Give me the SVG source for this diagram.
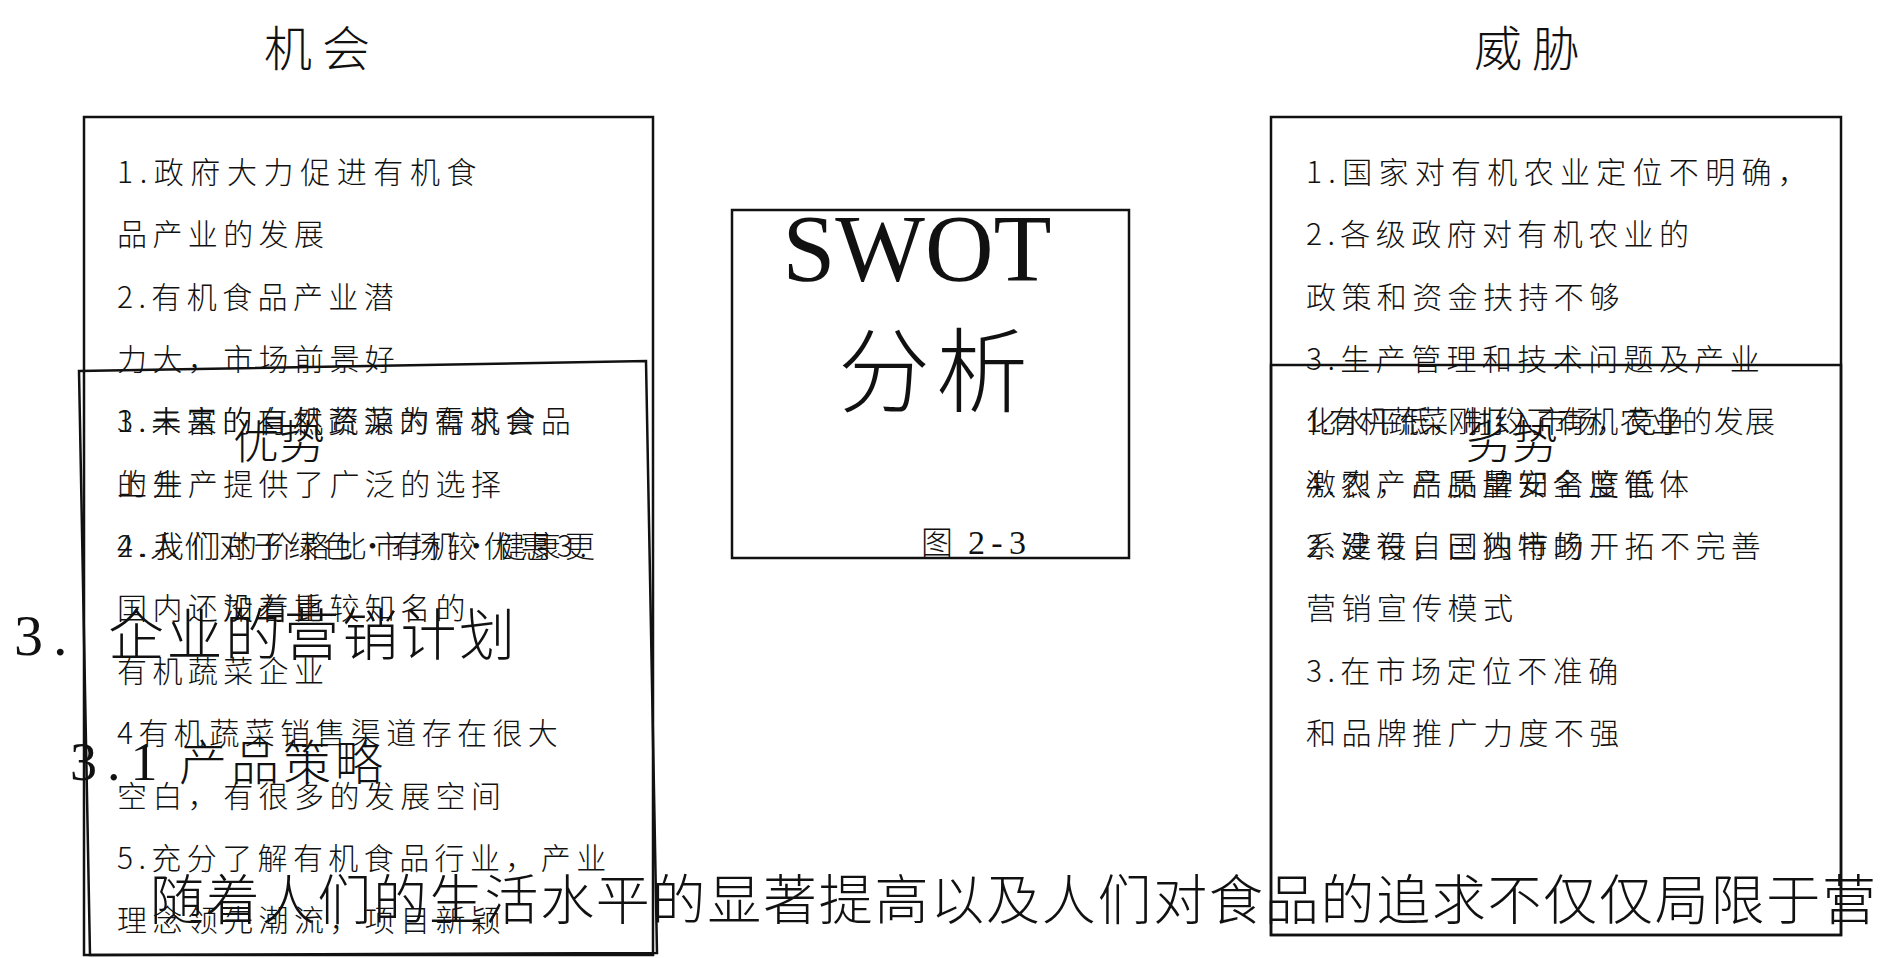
<svg xmlns="http://www.w3.org/2000/svg" width="1882" height="958" viewBox="0 0 1882 958">
<style>
.t{font-family:"Noto Sans CJK SC","Noto Sans CJK JP",sans-serif;font-size:30px;letter-spacing:5.4px;fill:#111;font-weight:300}
.n{font-family:"Noto Sans CJK SC","Noto Sans CJK JP",sans-serif;font-size:30px;fill:#111;font-weight:300}
.big{font-family:"Noto Sans CJK SC","Noto Sans CJK JP",sans-serif;fill:#111;font-weight:300}
.ser{font-family:"Liberation Serif","Times New Roman",serif;fill:#111}
.box{fill:none;stroke:#111;stroke-width:2.5}
</style>
<rect width="1882" height="958" fill="#fff"/>

<g id="titles">
  <text class="big" x="322" y="66" font-size="48" text-anchor="middle" letter-spacing="10">机会</text>
  <text class="big" x="1532" y="66" font-size="48" text-anchor="middle" letter-spacing="10">威胁</text>
</g>

<g id="opportunity">
  <rect class="box" x="84" y="117" width="569" height="838"/>
  <text class="t" x="117" y="183" style="letter-spacing:6.6px">1.政府大力促进有机食</text>
  <text class="t" x="117" y="245">品产业的发展</text>
  <text class="t" x="117" y="308">2.有机食品产业潜</text>
  <text class="t" x="117" y="370">力大，市场前景好</text>
  <text class="t" x="117" y="432">3.丰富的自然资源为有机食品</text>
  <text class="t" x="117" y="495">的生产提供了广泛的选择</text>
  <text class="n" x="117" y="557" textLength="478" lengthAdjust="spacing">4.人们对于绿色•有机•健康更</text>
  <text class="t" x="223" y="619">加着重</text>
</g>

<g id="strength">
  <polygon class="box" points="79,371 646,361 657,953 90,955"/>
  <text class="big" x="279" y="458" font-size="46" text-anchor="middle">优势</text>
  <text class="t" x="117" y="432">1.未来的有机蔬菜的需求会</text>
  <text class="t" x="117" y="495">上升</text>
  <text class="n" x="117" y="557" textLength="470" lengthAdjust="spacing">2.我们的价格比市场较优惠3.</text>
  <text class="t" x="117" y="619">国内还没有比较知名的</text>
  <text class="t" x="117" y="682">有机蔬菜企业</text>
  <text class="t" x="117" y="744">4有机蔬菜销售渠道存在很大</text>
  <text class="t" x="117" y="807">空白，有很多的发展空间</text>
  <text class="t" x="117" y="869">5.充分了解有机食品行业，产业</text>
  <text class="t" x="117" y="931">理念领先潮流，项目新颖</text>
</g>

<g id="threat">
  <rect class="box" x="1271" y="117" width="570" height="818"/>
  <text class="t" x="1306" y="183" style="letter-spacing:6.3px">1.国家对有机农业定位不明确，</text>
  <text class="t" x="1306" y="245">2.各级政府对有机农业的</text>
  <text class="t" x="1306" y="308">政策和资金扶持不够</text>
  <text class="t" x="1306" y="370">3.生产管理和技术问题及产业</text>
  <text class="n" x="1306" y="432" textLength="469" lengthAdjust="spacing">化水平低，制约了有机农业的发展</text>
  <text class="t" x="1306" y="495">4.农产品质量安全监管体</text>
  <text class="t" x="1306" y="557">系建设，国内市场开拓不完善</text>
</g>

<g id="weakness">
  <rect class="box" x="1271" y="365" width="570" height="570"/>
  <text class="big" x="1512" y="458" font-size="46" text-anchor="middle">劣势</text>
  <text class="n" x="1306" y="432" textLength="380" lengthAdjust="spacing">1.有机蔬菜刚打入市场，竞争</text>
  <text class="t" x="1306" y="495">激烈，产品牌知名度低</text>
  <text class="t" x="1306" y="557">2.没有自己独特的</text>
  <text class="t" x="1306" y="619">营销宣传模式</text>
  <text class="t" x="1306" y="682">3.在市场定位不准确</text>
  <text class="t" x="1306" y="744">和品牌推广力度不强</text>
</g>

<g id="swot">
  <rect class="box" x="732" y="210" width="397" height="348"/>
  <text class="ser" x="917" y="281" font-size="95" text-anchor="middle">SWOT</text>
  <text class="big" x="838" y="405" font-size="92" letter-spacing="6">分析</text>
  <text class="big" x="921" y="554" font-size="32">图</text>
  <text class="ser" x="968" y="554" font-size="34" textLength="58" lengthAdjust="spacing">2-3</text>
</g>

<g id="headings">
  <text class="ser" x="14" y="655" font-size="58" letter-spacing="10">3.</text>
  <text class="big" x="108" y="655" font-size="56" letter-spacing="2.5">企业的营销计划</text>
  <text class="ser" x="70" y="780" font-size="54" letter-spacing="10">3.1</text>
  <text class="big" x="179" y="780" font-size="48" letter-spacing="4">产品策略</text>
  <text class="big" x="150" y="920" font-size="54" textLength="1726" lengthAdjust="spacing">随着人们的生活水平的显著提高以及人们对食品的追求不仅仅局限于营</text>
</g>

<g id="connectors"></g>
</svg>
